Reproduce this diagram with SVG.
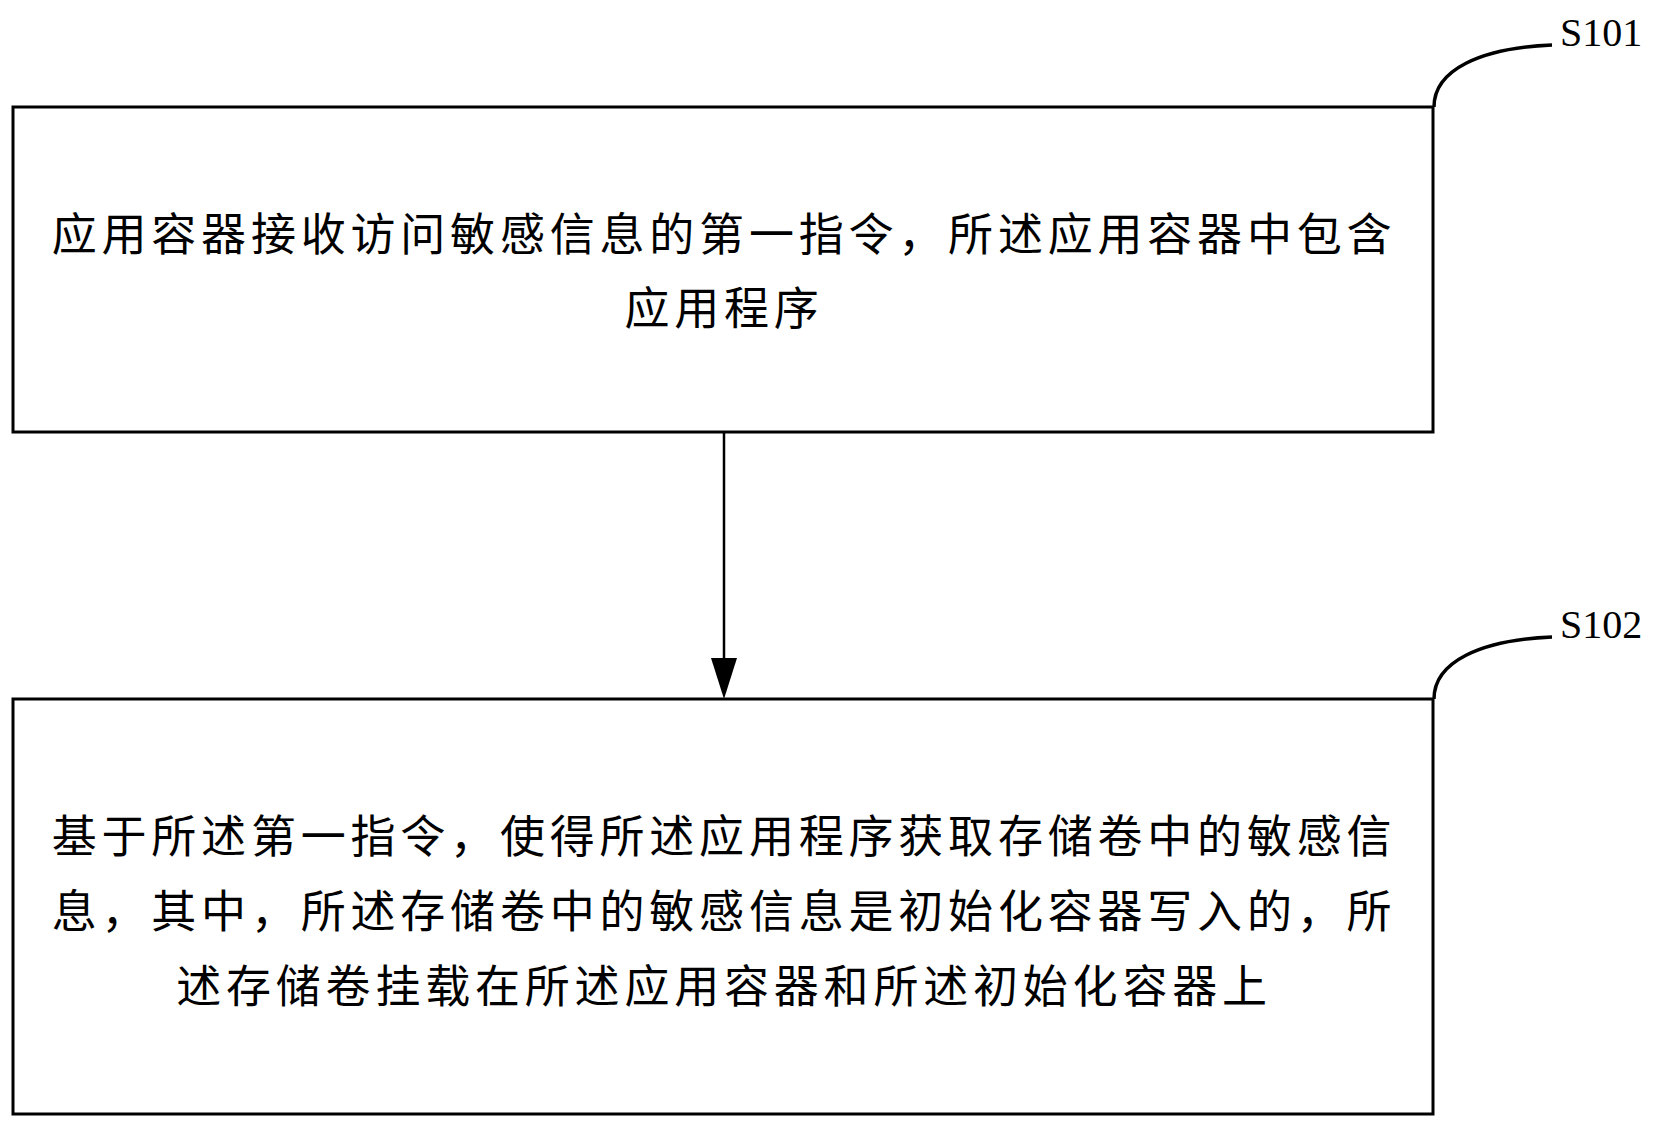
<svg xmlns="http://www.w3.org/2000/svg" width="1672" height="1128" viewBox="0 0 1672 1128">
<style>
.box{fill:#fff;stroke:#000;stroke-width:3}
.t{font-family:"Noto Sans CJK SC",sans-serif;font-size:45px;letter-spacing:4.8px;text-anchor:middle;fill:#000}
.lab{font-family:"Liberation Serif",serif;font-size:40px;fill:#000}
.c{fill:none;stroke:#000;stroke-width:3.5}
</style>
<rect width="1672" height="1128" fill="#fff"/>
<g id="s101">
<rect class="box" x="13" y="107" width="1420" height="325"/>
<text class="t" x="724" y="251">应用容器接收访问敏感信息的第一指令，所述应用容器中包含</text>
<text class="t" x="724" y="325">应用程序</text>
<path class="c" d="M1434,107 C1434,70 1480,48 1552,45"/>
<text class="lab" x="1560" y="46">S101</text>
</g>
<g id="s102">
<rect class="box" x="13" y="699" width="1420" height="415"/>
<text class="t" x="724" y="853">基于所述第一指令，使得所述应用程序获取存储卷中的敏感信</text>
<text class="t" x="724" y="928">息，其中，所述存储卷中的敏感信息是初始化容器写入的，所</text>
<text class="t" x="724" y="1003">述存储卷挂载在所述应用容器和所述初始化容器上</text>
<path class="c" d="M1434,699 C1434,662 1480,640 1552,637"/>
<text class="lab" x="1560" y="638">S102</text>
</g>
<g id="connectors">
<line x1="724" y1="432" x2="724" y2="660" stroke="#000" stroke-width="2.5"/>
<path d="M711,658 L737,658 L724,699 Z" fill="#000"/>
</g>
</svg>
